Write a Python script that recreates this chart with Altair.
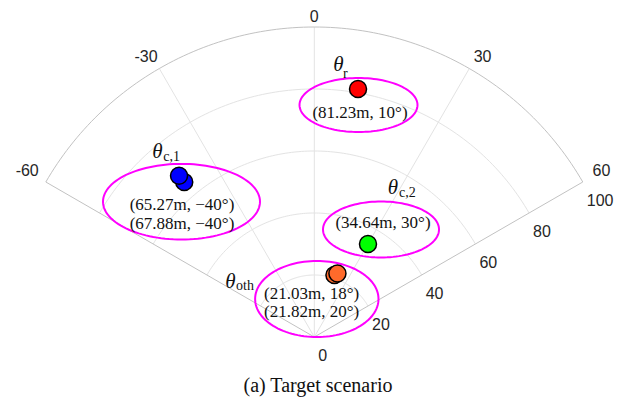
import altair as alt
import pandas as pd
import numpy as np

# ---------------- data ----------------
target_group = ["r", "c1", "c1", "c2", "oth", "oth"]
ranges_m = [81.23, 65.27, 67.88, 34.64, 21.03, 21.82]
angles_deg = [10, -40, -40, 30, 18, 20]

group_domain = ["r", "c1", "c2", "oth"]
group_colors = ["#ff0000", "#0000ff", "#00ff00", "#ff6a2b"]

radial_ticks = [0, 20, 40, 60, 80, 100]
grid_radii = [20, 40, 60, 80, 100]
theta_ticks = [-60, -30, 0, 30, 60]
theta_labels = ["-60", "-30", "0", "30", "60"]

# value annotations (text, x[m], y[m])
val_text = ["(81.23m, 10°)", "(65.27m, −40°)", "(67.88m, −40°)",
            "(34.64m, 30°)", "(21.03m, 18°)", "(21.82m, 20°)"]
val_x = [14.74, -42.68, -42.68, 22.16, -0.87, -0.87]
val_y = [72.26, 42.42, 36.61, 36.77, 13.87, 8.06]

# theta symbol annotations
sym_x = [7.74, -50.58, 25.39, -27.03]
sym_y = [87.74, 59.77, 47.97, 17.90]
sub_text = ["r", "c,1", "c,2", "oth"]
sub_x = [9.26, -48.71, 27.32, -25.26]
sub_y = [85.00, 58.06, 46.61, 16.45]

# highlight ellipses (center x, center y, rx, ry) in metres
ell_cx = [14.26, -42.84, 21.52, 0.81]
ell_cy = [74.84, 43.65, 34.68, 12.26]
ell_rx = [19.03, 25.32, 18.71, 19.90]
ell_ry = [8.71, 12.19, 9.03, 12.26]

caption = "(a) Target scenario"

# ---------------- geometry of the view ----------------
W, H = 616, 389
CX, CY = 306.3, 329.0   # pole position inside the plot area (px)
K = 3.1                 # px per metre
xs = alt.Scale(domain=[-CX / K, (W - CX) / K], nice=False, zero=False)
ys = alt.Scale(domain=[-(H - CY) / K, CY / K], nice=False, zero=False)


def X(f):
    return alt.X(f, type="quantitative", scale=xs, axis=None)


def Y(f):
    return alt.Y(f, type="quantitative", scale=ys, axis=None)


DEG = "PI/180"

# grid arcs
arc_rows = []
for r in grid_radii:
    for i, a in enumerate(np.arange(-60, 60.5, 1.0)):
        arc_rows.append({"r": r, "a": float(a), "i": i})
arcs = pd.DataFrame(arc_rows)

arc_base = alt.Chart(arcs).transform_calculate(
    x=f"datum.r*sin(datum.a*{DEG})", y=f"datum.r*cos(datum.a*{DEG})"
)
inner_arcs = arc_base.transform_filter("datum.r < 100").mark_line(
    color="#e3e3e3", strokeWidth=1
).encode(x=X("x"), y=Y("y"), detail="r:N", order="i:Q")
outer_arc = arc_base.transform_filter("datum.r == 100").mark_line(
    color="#c2c2c2", strokeWidth=1
).encode(x=X("x"), y=Y("y"), detail="r:N", order="i:Q")

# spokes
spokes = pd.DataFrame({"a": theta_ticks})
spoke_base = alt.Chart(spokes).transform_calculate(
    x0="0", y0="0",
    x1=f"100*sin(datum.a*{DEG})", y1=f"100*cos(datum.a*{DEG})"
)
inner_spokes = spoke_base.transform_filter("abs(datum.a) < 60").mark_rule(
    color="#e3e3e3", strokeWidth=1
).encode(x=X("x0"), y=Y("y0"), x2="x1:Q", y2="y1:Q")
edge_spokes = spoke_base.transform_filter("abs(datum.a) == 60").mark_rule(
    color="#c2c2c2", strokeWidth=1
).encode(x=X("x0"), y=Y("y0"), x2="x1:Q", y2="y1:Q")

# theta tick labels
tl = pd.DataFrame({"a": theta_ticks, "t": theta_labels})
theta_text = alt.Chart(tl).transform_calculate(
    lr="103.3 + 4.2*abs(sin(datum.a*PI/180))",
    la="datum.a + (abs(datum.a) == 30 ? datum.a/30*1.0 : 0)",
).transform_calculate(
    x=f"datum.lr*sin(datum.la*{DEG})", y=f"datum.lr*cos(datum.la*{DEG})"
).mark_text(
    font="Liberation Sans", fontSize=16, color="#262626",
    align="center", baseline="middle"
).encode(x=X("x"), y=Y("y"), text="t:N")

# radial tick labels along the +60 spoke
rl = pd.DataFrame({"r": radial_ticks})
radial_text = alt.Chart(rl).transform_calculate(
    x=f"datum.r*sin(60*{DEG})", y=f"datum.r*cos(60*{DEG})", t="'' + datum.r"
).mark_text(
    font="Liberation Sans", fontSize=16, color="#262626",
    align="left", baseline="middle", dx=4, dy=19
).encode(x=X("x"), y=Y("y"), text="t:N")

# ellipses
ell_rows = []
for k in range(len(ell_cx)):
    for i, t in enumerate(np.arange(0, 361, 3.0)):
        ell_rows.append({"id": k, "i": i, "t": float(t), "cx": ell_cx[k], "cy": ell_cy[k],
                         "rx": ell_rx[k], "ry": ell_ry[k]})
ells = pd.DataFrame(ell_rows)
ellipses = alt.Chart(ells).transform_calculate(
    x=f"datum.cx + datum.rx*cos(datum.t*{DEG})",
    y=f"datum.cy + datum.ry*sin(datum.t*{DEG})",
).mark_line(color="#ff00ff", strokeWidth=2).encode(
    x=X("x"), y=Y("y"), detail="id:N", order="i:Q"
)

# targets
pts = pd.DataFrame({"g": target_group, "r": ranges_m, "a": angles_deg,
                    "k": list(range(len(ranges_m)))})
points = alt.Chart(pts).transform_calculate(
    x=f"datum.r*sin(datum.a*{DEG})", y=f"datum.r*cos(datum.a*{DEG})"
).mark_circle(size=290, opacity=1, stroke="black", strokeWidth=1.5).encode(
    x=X("x"), y=Y("y"),
    color=alt.Color("g:N", scale=alt.Scale(domain=group_domain, range=group_colors), legend=None),
    order="k:Q",
)

# value labels
vl = pd.DataFrame({"t": val_text, "x": val_x, "y": val_y})
value_text = alt.Chart(vl).mark_text(
    font="Liberation Serif", fontSize=17, color="#111111",
    align="center", baseline="middle"
).encode(x=X("x"), y=Y("y"), text="t:N")

# theta symbols + subscripts
sl = pd.DataFrame({"x": sym_x, "y": sym_y, "t": ["θ"] * len(sym_x)})
sym_text = alt.Chart(sl).mark_text(
    font="Liberation Serif", fontSize=21, fontStyle="italic", color="#111111",
    align="center", baseline="middle"
).encode(x=X("x"), y=Y("y"), text="t:N")

sbl = pd.DataFrame({"x": sub_x, "y": sub_y, "t": sub_text})
sub_labels = alt.Chart(sbl).mark_text(
    font="Liberation Serif", fontSize=14, color="#111111",
    align="left", baseline="middle"
).encode(x=X("x"), y=Y("y"), text="t:N")

# caption
cap = pd.DataFrame({"x": [1.19], "y": [-17.74], "t": [caption]})
cap_text = alt.Chart(cap).mark_text(
    font="Liberation Serif", fontSize=20, color="#111111",
    align="center", baseline="alphabetic"
).encode(x=X("x"), y=Y("y"), text="t:N")

chart = alt.layer(
    inner_arcs, inner_spokes, outer_arc, edge_spokes,
    ellipses, points,
    theta_text, radial_text, value_text, sym_text, sub_labels, cap_text,
).properties(
    width=W, height=H, autosize="none", padding=0,
).configure(background="white", view=alt.ViewConfig(stroke=None))

chart.save("out.html", embed_options={"renderer": "svg", "actions": False})
